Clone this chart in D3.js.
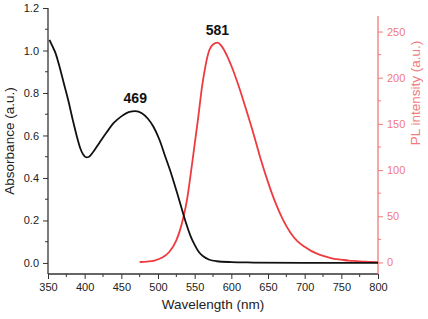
<!DOCTYPE html>
<html><head><meta charset="utf-8">
<script src="https://cdn.jsdelivr.net/npm/d3@7"></script>
<style>body{margin:0;background:#fff}svg{display:block}text{font-family:"Liberation Sans",Arial,sans-serif}</style>
</head><body><svg id="c" width="428" height="319"></svg>
<script>
const absWl = [352,356,360,366,372,378,384,389,394,398,402,406,410,420,430,440,450,460,469,478,486,494,502,510,518,526,532,538,544,550,556,562,570,580,600,630,700,800];
const absVal = [1.05,1.02,0.99,0.92,0.84,0.76,0.67,0.60,0.54,0.51,0.497,0.50,0.515,0.565,0.615,0.66,0.69,0.71,0.715,0.705,0.68,0.64,0.58,0.50,0.42,0.33,0.26,0.19,0.13,0.085,0.05,0.03,0.015,0.008,0.004,0.002,0.0,0.0];
const plWl = [475,485,495,505,515,525,530,535,540,545,550,555,560,565,570,575,581,587,594,600,610,620,630,640,650,660,670,680,690,700,710,720,730,740,750,760,770,780,790,800];
const plVal = [0.5,1,2,5,11,24,35,50,70,98,128,158,190,214,230,236,238,234,224,213,191,166,140,112,87,65,47,33,23,17,12,8.5,6,4,3,2,1.5,1,0.5,0.3];
const xTicks = [350,400,450,500,550,600,650,700,750,800];
const yTicks = [0.0,0.2,0.4,0.6,0.8,1.0,1.2];
const y2Ticks = [0,50,100,150,200,250];
const peaks = [{wl:469, label:"469", series:"abs"},{wl:581, label:"581", series:"pl"}];

const svg = d3.select("#c");
const L=48, R=378, T=8, B=274;
const x = d3.scaleLinear().domain([350,800]).range([L,R]);
const y = d3.scaleLinear().domain([-0.052,1.2]).range([B,T]);
const y2 = d3.scaleLinear().domain([-12.5,275.5]).range([B,T]);
const red = "#ee3b3f", axRed = "#f07a7c";

// bottom axis
const minorX = d3.range(375,800,50);
const gx = svg.append("g").attr("transform",`translate(0,${B})`);
gx.call(d3.axisBottom(x).tickValues(xTicks).tickSize(5).tickPadding(4).tickFormat(d3.format("d")));
gx.selectAll(".tick line").attr("stroke","#333");
gx.select(".domain").attr("stroke","#333").attr("stroke-width",1.3).attr("d",`M${L},0H${R}`);
gx.selectAll("text").attr("font-size",11).attr("fill","#222");
gx.selectAll(".mt").data(minorX).enter().append("line").attr("x1",d=>x(d)).attr("x2",d=>x(d)).attr("y1",0).attr("y2",3).attr("stroke","#333");

// left axis
const gy = svg.append("g").attr("transform",`translate(${L},0)`);
gy.call(d3.axisLeft(y).tickValues(yTicks).tickSize(5).tickPadding(4).tickFormat(d3.format(".1f")));
gy.selectAll(".tick line").attr("stroke","#333");
gy.select(".domain").attr("stroke","#333").attr("stroke-width",1.3).attr("d",`M0,${B}V${T}`);
gy.selectAll("text").attr("font-size",11).attr("fill","#222");
gy.selectAll(".mt").data(d3.range(0.1,1.2,0.2)).enter().append("line").attr("y1",d=>y(d)).attr("y2",d=>y(d)).attr("x1",0).attr("x2",-3).attr("stroke","#333");

// right axis
const gr = svg.append("g").attr("transform",`translate(${R},0)`);
gr.call(d3.axisRight(y2).tickValues(y2Ticks).tickSize(5).tickPadding(4));
gr.selectAll(".tick line").attr("stroke",axRed);
gr.select(".domain").attr("stroke",axRed).attr("stroke-width",1.3).attr("d",`M0,${B}V16`);
gr.selectAll("text").attr("font-size",11).attr("fill",axRed);
gr.selectAll(".mt").data(d3.range(25,275,50)).enter().append("line").attr("y1",d=>y2(d)).attr("y2",d=>y2(d)).attr("x1",0).attr("x2",3).attr("stroke",axRed);

// lines
const absData = absWl.map((w,i)=>({w,v:absVal[i]}));
const plData = plWl.map((w,i)=>({w,v:plVal[i]}));
svg.append("path").datum(plData).attr("fill","none").attr("stroke",red).attr("stroke-width",1.8)
  .attr("d",d3.line().x(d=>x(d.w)).y(d=>y2(d.v)).curve(d3.curveMonotoneX));
svg.append("path").datum(absData).attr("fill","none").attr("stroke","#111").attr("stroke-width",1.8)
  .attr("d",d3.line().x(d=>x(d.w)).y(d=>y(d.v)).curve(d3.curveMonotoneX));

// peak labels
peaks.forEach(p=>{
  const arr = p.series==="abs"?absData:plData;
  const pt = arr.reduce((a,b)=>Math.abs(b.w-p.wl)<Math.abs(a.w-p.wl)?b:a);
  const py = p.series==="abs"?y(pt.v):y2(pt.v);
  svg.append("text").attr("x",x(p.wl)).attr("y",py-8).attr("text-anchor","middle")
    .attr("font-size",14).attr("font-weight","bold").attr("fill","#111").text(p.label);
});

// titles
svg.append("text").attr("x",(L+R)/2).attr("y",309).attr("text-anchor","middle").attr("font-size",13.5).attr("fill","#222").text("Wavelength (nm)");
svg.append("text").attr("transform",`translate(14,${(T+B)/2}) rotate(-90)`).attr("text-anchor","middle").attr("font-size",13.5).attr("fill","#222").text("Absorbance (a.u.)");
svg.append("text").attr("transform",`translate(420,93) rotate(-90)`).attr("text-anchor","middle").attr("font-size",13.5).attr("fill",axRed).text("PL intensity (a.u.)");
</script></body></html>
